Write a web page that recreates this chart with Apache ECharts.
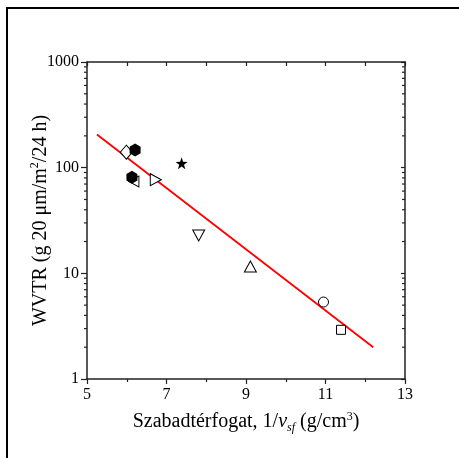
<!DOCTYPE html>
<html><head><meta charset="utf-8">
<script src="https://cdn.jsdelivr.net/npm/echarts@6/dist/echarts.min.js"></script>
<style>html,body{margin:0;padding:0;background:#fff}#c{width:459px;height:458px}</style>
</head><body><div id="c"></div>
<script>
// Data (x = 1/v_sf in g/cm3, y = WVTR)
const diamondPt = [[5.99, 140]];
const leftTriPt = [[6.18, 74]];
const rightTriPt = [[6.73, 77]];
const downTriPt = [[7.81, 22.8]];
const upTriPt = [[9.11, 11.6]];
const circlePt = [[10.95, 5.35]];
const squarePt = [[11.39, 2.92]];
const hexPts = [[6.21, 147], [6.13, 81]];
const starPt = [[7.38, 110]];
const fitLine = [[5.25, 206], [12.2, 2.0]];
const xTicks = [5, 7, 9, 11, 13];
const yTicks = [1, 10, 100, 1000];
const yMinorTicks = [2,3,4,5,6,7,8,9,20,30,40,50,60,70,80,90,200,300,400,500,600,700,800,900];

const FONT = 'Liberation Serif';
const AX = '#222';
const hexPath = 'path://M0,-10 L8.66,-5 L8.66,5 L0,10 L-8.66,5 L-8.66,-5 Z';
const starPath = 'path://M0,-10 L2.35,-3.24 L9.51,-3.09 L3.8,1.24 L5.88,8.09 L0,4 L-5.88,8.09 L-3.8,1.24 L-9.51,-3.09 L-2.35,-3.24 Z';

const openStyle = {color: '#fff', borderColor: '#000', borderWidth: 1, opacity: 1};
const fillStyle = {color: '#000', opacity: 1};
function sc(data, symbol, size, rot, style, z) {
  return {type: 'scatter', data: data, symbol: symbol, symbolSize: size, symbolRotate: rot || 0,
    itemStyle: style, z: z || 3, xAxisIndex: 0, yAxisIndex: 0, silent: true};
}

const chart = echarts.init(document.getElementById('c'), null, {renderer: 'canvas'});
const axisLineStyle = {lineStyle: {color: AX, width: 1.5}};
chart.setOption({
  animation: false,
  backgroundColor: '#fff',
  graphic: [{type: 'rect', shape: {x: 7, y: 8, width: 470, height: 470}, style: {fill: 'none', stroke: '#000', lineWidth: 2}, silent: true}],
  grid: {left: 87, right: 54, top: 62, bottom: 79, containLabel: false},
  xAxis: [{
    type: 'value', min: 5, max: 13, interval: 2, position: 'bottom',
    axisLine: axisLineStyle,
    axisTick: {show: true, inside: false, length: 5, lineStyle: {color: AX, width: 1.2}},
    minorTick: {show: true, splitNumber: 2, length: 3, lineStyle: {color: AX, width: 1.2}},
    splitLine: {show: false},
    axisLabel: {color: '#000', fontFamily: FONT, fontSize: 16, margin: 8,
      formatter: v => xTicks.indexOf(v) >= 0 ? String(v) : ''},
    name: '{n|Szabadtérfogat, 1/}{i|v}{sub|sf}{n| (g/cm}{sup|3}{n|)}',
    nameLocation: 'middle', nameGap: 31,
    nameTextStyle: {color: '#000', fontFamily: FONT, fontSize: 20,
      rich: {
        n: {fontFamily: FONT, fontSize: 20, color: '#000'},
        i: {fontFamily: FONT, fontSize: 20, fontStyle: 'italic', color: '#000'},
        sub: {fontFamily: FONT, fontSize: 12, fontStyle: 'italic', color: '#000', padding: [12, 0, 0, 0]},
        sup: {fontFamily: FONT, fontSize: 12, color: '#000', padding: [0, 0, 11, 0]}
      }}
  }, {
    type: 'value', min: 5, max: 13, interval: 1, position: 'top',
    axisLine: axisLineStyle,
    axisTick: {show: true, inside: true, length: 4, lineStyle: {color: AX, width: 1.2}},
    axisLabel: {show: false}, splitLine: {show: false}
  }],
  yAxis: [{
    type: 'log', logBase: 10, min: 1, max: 1000, position: 'left',
    axisLine: axisLineStyle,
    axisTick: {show: true, inside: false, length: 6, lineStyle: {color: AX, width: 1.2}},
    splitLine: {show: false},
    axisLabel: {color: '#000', fontFamily: FONT, fontSize: 16, margin: 8,
      formatter: v => yTicks.indexOf(Math.round(v)) >= 0 ? String(Math.round(v)) : ''},
    name: '{n|WVTR (g 20 μm/m}{sup|2}{n|/24 h)}',
    nameLocation: 'middle', nameGap: 35, nameMoveOverlap: false,
    nameTextStyle: {color: '#000', fontFamily: FONT, fontSize: 20,
      rich: {
        n: {fontFamily: FONT, fontSize: 20, color: '#000'},
        sup: {fontFamily: FONT, fontSize: 12, color: '#000', padding: [0, 0, 11, 0]}
      }}
  }, {
    type: 'log', logBase: 10, min: 1, max: 1000, position: 'right',
    axisLine: axisLineStyle,
    axisTick: {show: true, inside: true, length: 4, lineStyle: {color: AX, width: 1.2}},
    axisLabel: {show: false}, splitLine: {show: false}
  }],
  series: [
    {
      type: 'custom', xAxisIndex: 0, yAxisIndex: 0, silent: true, clip: false, z: 1,
      data: yMinorTicks.map(v => [5, v]),
      renderItem: function (params, api) {
        const pL = api.coord([5, api.value(1)]);
        const pR = api.coord([13, api.value(1)]);
        const st = {stroke: AX, lineWidth: 1.2};
        return {type: 'group', children: [
          {type: 'line', shape: {x1: pL[0] - 3, y1: pL[1], x2: pL[0], y2: pL[1]}, style: st},
          {type: 'line', shape: {x1: pR[0] - 3, y1: pR[1], x2: pR[0], y2: pR[1]}, style: st}
        ]};
      }
    },
    {type: 'line', data: fitLine, symbol: 'none', lineStyle: {color: '#ff0000', width: 1.8}, z: 2, silent: true, xAxisIndex: 0, yAxisIndex: 0},
    sc(diamondPt, 'diamond', [12, 14], 0, openStyle, 3),
    sc(leftTriPt, 'triangle', [11, 10], 90, openStyle, 3),
    sc(rightTriPt, 'triangle', [12, 11], -90, openStyle, 3),
    sc(downTriPt, 'triangle', [12, 11], 180, openStyle, 3),
    sc(upTriPt, 'triangle', [12, 11], 0, openStyle, 3),
    sc(circlePt, 'circle', 10, 0, openStyle, 3),
    sc(squarePt, 'rect', 9, 0, openStyle, 3),
    sc(hexPts, hexPath, [11, 13], 0, fillStyle, 4),
    sc(starPt, starPath, 12, 0, fillStyle, 4)
  ]
});
</script></body></html>
